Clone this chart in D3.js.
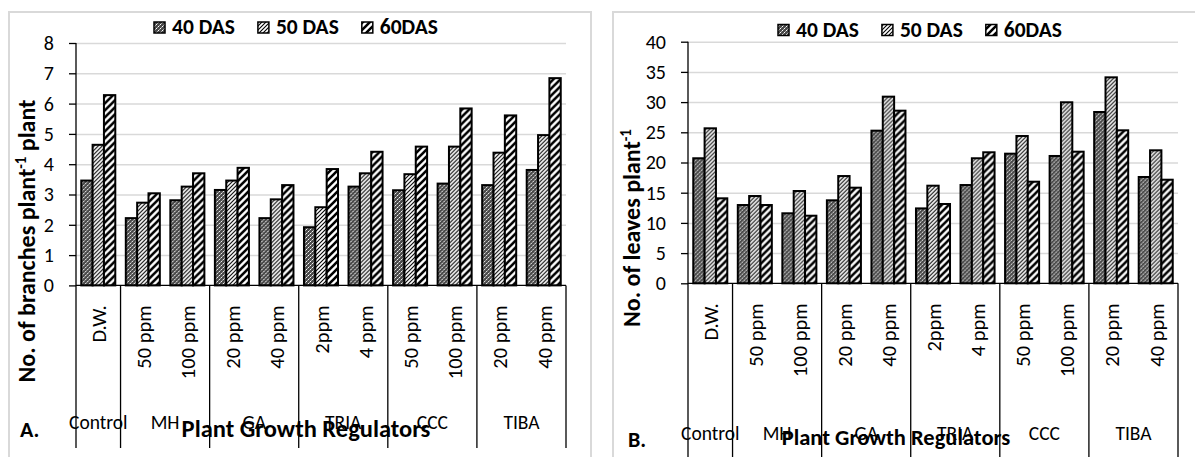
<!DOCTYPE html>
<html>
<head>
<meta charset="utf-8">
<script src="https://cdn.jsdelivr.net/npm/d3@7"></script>
<style>
  body { margin: 0; background: #fff; }
  svg { display: block; font-family: Carlito, Calibri, Lato, sans-serif; }
</style>
</head>
<body>
<svg></svg>
<script>
const treatments = ['D.W.', '50 ppm', '100 ppm', '20 ppm', '40 ppm', '2ppm', '4 ppm', '50 ppm', '100 ppm', '20 ppm', '40 ppm'];
const groupNames = ['Control', 'MH', 'GA', 'TRIA', 'CCC', 'TIBA'];
const groupSizes = [1, 2, 2, 2, 2, 2];
const seriesNames = ['40 DAS', '50 DAS', '60DAS'];

const branches40 = [3.46, 2.22, 2.81, 3.15, 2.22, 1.92, 3.26, 3.14, 3.36, 3.31, 3.81];
const branches50 = [4.64, 2.73, 3.26, 3.46, 2.84, 2.58, 3.70, 3.67, 4.58, 4.38, 4.96];
const branches60 = [6.28, 3.04, 3.70, 3.88, 3.31, 3.84, 4.41, 4.58, 5.84, 5.61, 6.84];

const leaves40 = [20.7, 12.96, 11.59, 13.74, 25.27, 12.4, 16.27, 21.46, 21.08, 28.36, 17.6];
const leaves50 = [25.66, 14.45, 15.28, 17.76, 30.9, 16.16, 20.7, 24.39, 29.97, 34.1, 22.02];
const leaves60 = [14.07, 12.96, 11.19, 15.83, 28.58, 13.13, 21.69, 16.82, 21.79, 25.33, 17.15];

const branchTicks = [0, 1, 2, 3, 4, 5, 6, 7, 8];
const leafTicks = [0, 5, 10, 15, 20, 25, 30, 35, 40];

const svg = d3.select('svg')
	.attr('width', 1195)
	.attr('height', 457);

// fill patterns, one per series
const defs = svg.append('defs');
const patternIds = ['p40', 'p50', 'p60'];

const p40 = defs.append('pattern').attr('id', 'p40')
	.attr('patternUnits', 'userSpaceOnUse').attr('width', 4).attr('height', 4);
p40.append('rect').attr('width', 4).attr('height', 4).attr('fill', '#4a4a4a');
[[0, 0, '#fff'], [2, 2, '#fff'], [1, 3, '#a8a8a8'], [3, 1, '#a8a8a8']].forEach(([x, y, c]) =>
	p40.append('rect').attr('x', x).attr('y', y).attr('width', 1).attr('height', 1).attr('fill', c));

const p50 = defs.append('pattern').attr('id', 'p50')
	.attr('patternUnits', 'userSpaceOnUse').attr('width', 4).attr('height', 4);
p50.append('rect').attr('width', 4).attr('height', 4).attr('fill', '#fff');
p50.append('path').attr('d', 'M0,4L4,0M-1,1L1,-1M3,5L5,3')
	.attr('stroke', '#000').attr('stroke-width', 1.1);

const p60 = defs.append('pattern').attr('id', 'p60')
	.attr('patternUnits', 'userSpaceOnUse').attr('width', 7).attr('height', 7);
p60.append('rect').attr('width', 7).attr('height', 7).attr('fill', '#fff');
p60.append('path').attr('d', 'M0,7L7,0M-2,2L2,-2M5,9L9,5')
	.attr('stroke', '#000').attr('stroke-width', 2.6);

const panels = [
	{
		values: [branches40, branches50, branches60],
		ticks: branchTicks,
		frame: [9, 12, 582, 470],
		left: 76, top: 43, width: 490, height: 242.4,
		lineBottom: 448,
		legendX: 154, legendY: 34,
		yTitle: ['No. of branches plant', '-1', ' plant'],
		yTitleX: 35, yTitleY: 241,
		groupY: 429,
		xTitleX: 306, xTitleY: 437, xTitleSize: 24.5,
		letter: 'A.', letterX: 20, letterY: 437
	},
	{
		values: [leaves40, leaves50, leaves60],
		ticks: leafTicks,
		frame: [613, 12, 620, 470],
		left: 688, top: 41.7, width: 490, height: 241.6,
		lineBottom: 457,
		legendX: 778, legendY: 36.5,
		yTitle: ['No. of leaves  plant', '-1', ''],
		yTitleX: 640, yTitleY: 228,
		groupY: 440,
		xTitleX: 896, xTitleY: 445, xTitleSize: 22.5,
		letter: 'B.', letterX: 628, letterY: 447
	}
];

const drawPanel = cfg => {
	svg.append('rect')
		.attr('x', cfg.frame[0]).attr('y', cfg.frame[1])
		.attr('width', cfg.frame[2]).attr('height', cfg.frame[3])
		.attr('fill', 'none').attr('stroke', '#d9d9d9').attr('stroke-width', 2);

	const g = svg.append('g')
		.attr('transform', `translate(${cfg.left}, ${cfg.top})`);

	const x0 = d3.scaleBand()
		.domain(d3.range(treatments.length))
		.range([0, cfg.width])
		.paddingInner(0.236)
		.paddingOuter(0.118);

	const x1 = d3.scaleBand()
		.domain(seriesNames)
		.range([0, x0.bandwidth()]);

	const y = d3.scaleLinear()
		.domain([0, d3.max(cfg.ticks)])
		.range([cfg.height, 0]);

	// gridlines
	const grid = g.append('g')
		.call(d3.axisLeft(y).tickValues(cfg.ticks.slice(1)).tickSize(-cfg.width).tickFormat(''));
	grid.select('.domain').remove();
	grid.selectAll('line').attr('stroke', '#d9d9d9').attr('stroke-width', 1.5);

	// bars
	const rows = treatments.map((t, i) => ({
		i,
		vals: cfg.values.map((v, k) => ({ s: seriesNames[k], v: v[i], k }))
	}));

	g.selectAll('.cat')
		.data(rows)
		.join('g')
			.attr('class', 'cat')
			.attr('transform', d => `translate(${x0(d.i)}, 0)`)
		.selectAll('rect')
		.data(d => d.vals)
		.join('rect')
			.attr('x', d => x1(d.s))
			.attr('y', d => y(d.v))
			.attr('width', x1.bandwidth())
			.attr('height', d => cfg.height - y(d.v))
			.attr('fill', d => `url(#${patternIds[d.k]})`)
			.attr('stroke', '#000')
			.attr('stroke-width', 2);

	// y axis
	const yAxisG = g.append('g')
		.call(d3.axisLeft(y).tickValues(cfg.ticks).tickSize(7).tickPadding(15));
	yAxisG.select('.domain').remove();
	yAxisG.attr('font-family', null).attr('font-size', null);
	yAxisG.selectAll('line').attr('stroke', '#000').attr('stroke-width', 1.3);
	yAxisG.selectAll('text').attr('fill', '#000').attr('font-size', 20);

	// axis lines and group separators
	g.append('line')
		.attr('x1', 0).attr('x2', cfg.width)
		.attr('y1', cfg.height).attr('y2', cfg.height)
		.attr('stroke', '#000').attr('stroke-width', 1.3);

	g.append('line')
		.attr('x1', 0).attr('x2', 0)
		.attr('y1', 0).attr('y2', cfg.lineBottom - cfg.top)
		.attr('stroke', '#000').attr('stroke-width', 1.3);

	const bounds = d3.cumsum(groupSizes);
	g.selectAll('.sep')
		.data(bounds)
		.join('line')
			.attr('class', 'sep')
			.attr('x1', d => d * x0.step()).attr('x2', d => d * x0.step())
			.attr('y1', cfg.height).attr('y2', cfg.lineBottom - cfg.top)
			.attr('stroke', '#000').attr('stroke-width', 1.3);

	// treatment labels
	g.selectAll('.tl')
		.data(treatments)
		.join('text')
			.attr('class', 'tl')
			.attr('transform', (d, i) => `translate(${x0(i) + x0.bandwidth() / 2}, ${cfg.height + 20}) rotate(-90)`)
			.attr('text-anchor', 'end')
			.attr('dy', '0.38em')
			.attr('font-size', 20.5)
			.text(d => d);

	// group labels
	const starts = [0, ...bounds.slice(0, -1)];
	g.selectAll('.gl')
		.data(groupNames)
		.join('text')
			.attr('class', 'gl')
			.attr('x', (d, i) => (starts[i] + groupSizes[i] / 2) * x0.step())
			.attr('y', cfg.groupY - cfg.top)
			.attr('text-anchor', 'middle')
			.attr('font-size', 19.5)
			.text(d => d);

	// y title
	const yt = svg.append('text')
		.attr('transform', `translate(${cfg.yTitleX}, ${cfg.yTitleY}) rotate(-90)`)
		.attr('text-anchor', 'middle')
		.attr('font-weight', 'bold')
		.attr('font-size', 24);
	yt.append('tspan').text(cfg.yTitle[0]);
	yt.append('tspan').attr('baseline-shift', 'super').attr('font-size', 15).text(cfg.yTitle[1]);
	if (cfg.yTitle[2]) yt.append('tspan').text(cfg.yTitle[2]);

	// x title
	svg.append('text')
		.attr('x', cfg.xTitleX).attr('y', cfg.xTitleY)
		.attr('text-anchor', 'middle')
		.attr('font-weight', 'bold')
		.attr('font-size', cfg.xTitleSize)
		.text('Plant Growth Regulators');

	svg.append('text')
		.attr('x', cfg.letterX).attr('y', cfg.letterY)
		.attr('font-weight', 'bold')
		.attr('font-size', 22)
		.text(cfg.letter);

	// legend
	let lx = cfg.legendX;
	seriesNames.forEach((name, k) => {
		svg.append('rect')
			.attr('x', lx).attr('y', cfg.legendY - 12)
			.attr('width', 11).attr('height', 11)
			.attr('fill', `url(#${patternIds[k]})`)
			.attr('stroke', '#000').attr('stroke-width', 1.5);
		const t = svg.append('text')
			.attr('x', lx + 18).attr('y', cfg.legendY)
			.attr('font-weight', 'bold')
			.attr('font-size', 21.5)
			.text(name);
		lx += 18 + t.node().getComputedTextLength() + 23;
	});
};

panels.forEach(drawPanel);
</script>
</body>
</html>
